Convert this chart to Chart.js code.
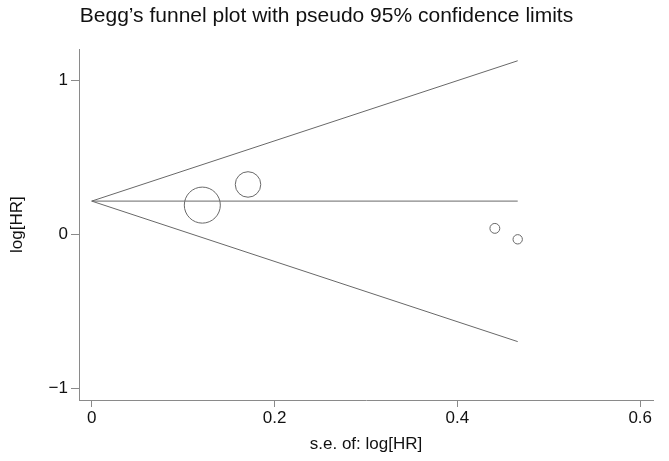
<!DOCTYPE html>
<html lang="en">
<head>
    <meta charset="UTF-8">
    <title>Begg's funnel plot</title>
    <script src="https://cdn.jsdelivr.net/npm/chart.js@4.4.1/dist/chart.umd.min.js"></script>
    <style>
        html, body { margin: 0; padding: 0; background: #fff; }
        #wrap { width: 669px; height: 461px; }
    </style>
</head>
<body>
    <div id="wrap"><canvas id="chart" width="669" height="461"></canvas></div>
    <script>
    // studies: standard error of log[HR] and the log[HR] itself
    const seLogHR = [0.121, 0.171, 0.441, 0.466];
    const logHR = [0.188, 0.322, 0.037, -0.034];

    // pseudo 95% confidence limits
    const limitSe = [0, 0.466];
    const upperLimit = [0.214, 1.125];
    const lowerLimit = [0.214, -0.698];
    const pooledLine = [0.214, 0.214];

    const xTicks = [0, 0.2, 0.4, 0.6];
    const yTicks = [-1, 0, 1];

    const font = "'Liberation Sans', Arial, Helvetica, sans-serif";
    const lineCol = '#686868';
    const axisCol = '#8a8a8a';

    function pairs(xs, ys) {
        return xs.map((x, i) => ({ x: x, y: ys[i] }));
    }

    // circle size goes with the weight 1/se
    const studies = seLogHR.map((se, i) => ({ x: se, y: logHR[i], r: 2.18 / se }));

    const lineSet = (data) => ({
        type: 'scatter',
        data: data,
        showLine: true,
        borderColor: lineCol,
        borderWidth: 1,
        pointRadius: 0,
        fill: false
    });

    const ctx = document.getElementById('chart').getContext('2d');
    new Chart(ctx, {
        type: 'bubble',
        data: {
            datasets: [
                lineSet(pairs(limitSe, upperLimit)),
                lineSet(pairs(limitSe, lowerLimit)),
                lineSet(pairs(limitSe, pooledLine)),
                {
                    type: 'bubble',
                    data: studies,
                    borderColor: lineCol,
                    borderWidth: 1,
                    backgroundColor: 'rgba(0,0,0,0)'
                }
            ]
        },
        options: {
            responsive: false,
            animation: false,
            layout: { autoPadding: false, padding: { left: 0, right: 16, top: 0, bottom: 0 } },
            plugins: {
                legend: { display: false },
                tooltip: { enabled: false },
                title: {
                    display: true,
                    text: 'Begg\u2019s funnel plot with pseudo 95% confidence limits',
                    color: '#111',
                    align: 'center',
                    font: { family: font, size: 21, weight: 'normal' },
                    padding: { top: 4, bottom: 20 }
                }
            },
            scales: {
                x: {
                    type: 'linear',
                    min: -0.0139,
                    max: 0.614,
                    afterBuildTicks: (s) => { s.ticks = xTicks.map(v => ({ value: v })); },
                    afterFit: (s) => { s.height = 61; s.paddingLeft = 0; s.paddingRight = 0; },
                    grid: { drawOnChartArea: false, drawTicks: true, tickLength: 7, color: axisCol },
                    border: { display: true, color: axisCol, width: 1 },
                    ticks: { color: '#111', padding: 1, maxRotation: 0, font: { family: font, size: 17 },
                        callback: (v) => String(v) },
                    title: { display: true, text: 's.e. of: log[HR]', color: '#111',
                        font: { family: font, size: 17 }, padding: { top: 0, bottom: 6 } }
                },
                y: {
                    type: 'linear',
                    min: -1.077,
                    max: 1.2,
                    afterBuildTicks: (s) => { s.ticks = yTicks.map(v => ({ value: v })); },
                    afterFit: (s) => { s.width = 79; s.paddingTop = 0; s.paddingBottom = 0; },
                    grid: { drawOnChartArea: false, drawTicks: true, tickLength: 8, color: axisCol },
                    border: { display: true, color: axisCol, width: 1 },
                    ticks: { color: '#111', padding: 3, font: { family: font, size: 17 },
                        callback: (v) => (v < 0 ? '\u2212' + Math.abs(v) : String(v)) },
                    title: { display: true, text: 'log[HR]', color: '#111',
                        font: { family: font, size: 17 }, padding: { top: 7, bottom: 0 } }
                }
            }
        }
    });
    </script>
</body>
</html>
